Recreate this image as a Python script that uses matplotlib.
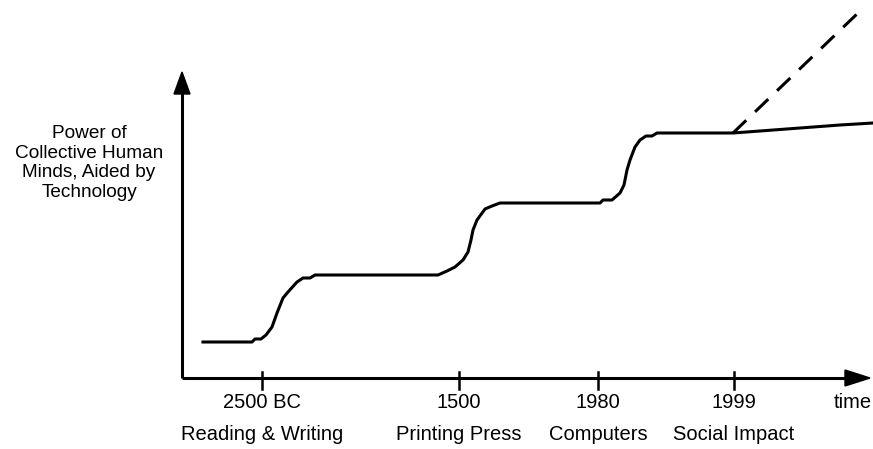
import matplotlib as mpl
import matplotlib.pyplot as plt
from matplotlib.patches import FancyArrow

mpl.rcParams['font.family'] = ['Liberation Sans', 'DejaVu Sans']

# curve of collective power, in units above/right of the axis origin
power_x = [21, 70, 73, 79, 84, 90, 95, 101, 106, 115, 121, 128, 133,
           256, 265, 273, 281, 286, 289, 291, 295, 303, 310, 318,
           418, 421, 430, 438, 442, 445, 448, 453, 458, 464, 470, 475,
           551, 578, 618, 658, 691]
power_y = [36, 36, 39, 39, 43, 51, 65, 80, 86, 96, 100, 100, 103,
           103, 107, 111, 118, 126, 138, 148, 158, 169, 172, 175,
           175, 178, 178, 185, 193, 208, 218, 231, 238, 242, 242, 245,
           245, 247, 250, 253, 255]

# dashed projection from 1999
proj_x = [551, 676]
proj_y = [245, 365]

tick_pos = [80, 277, 416, 552]
tick_years = ["2500 BC", "1500", "1980", "1999"]
tick_events = ["Reading & Writing", "Printing Press", "Computers", "Social Impact"]

ylabel = "Power of\nCollective Human\nMinds, Aided by\nTechnology"

fig = plt.figure(figsize=(8.73, 4.49), dpi=100)
ax = fig.add_axes([0, 0, 1, 1])
ax.set_xlim(-182, 691)
ax.set_ylim(-71, 378)
ax.axis('off')

lw = 2.2
# axes with arrow heads
ax.plot([0, 665], [0, 0], color='black', lw=lw, solid_capstyle='butt')
ax.plot([0, 0], [0, 286], color='black', lw=lw, solid_capstyle='butt')
ax.add_patch(FancyArrow(663, 0, 25, 0, width=0.01, head_width=16, head_length=25,
                        length_includes_head=True, color='black'))
ax.add_patch(FancyArrow(0, 283, 0, 23, width=0.01, head_width=16, head_length=22,
                        length_includes_head=True, color='black'))

for x, yr, ev in zip(tick_pos, tick_years, tick_events):
    ax.plot([x, x], [6, -11], color='black', lw=1.8)
    ax.text(x, -25, yr, ha='center', va='center', fontsize=14.5)
    ax.text(x, -57, ev, ha='center', va='center', fontsize=14.5)
ax.text(671, -25, "time", ha='center', va='center', fontsize=14.5)

ax.text(-93, 215, ylabel, ha='center', va='center', fontsize=13.7, linespacing=1.2)

ax.plot(power_x, power_y, color='black', lw=lw, solid_joinstyle='round')
ax.plot(proj_x, proj_y, color='black', lw=lw, dashes=(6, 4))

fig.savefig("out.png", dpi=100)
